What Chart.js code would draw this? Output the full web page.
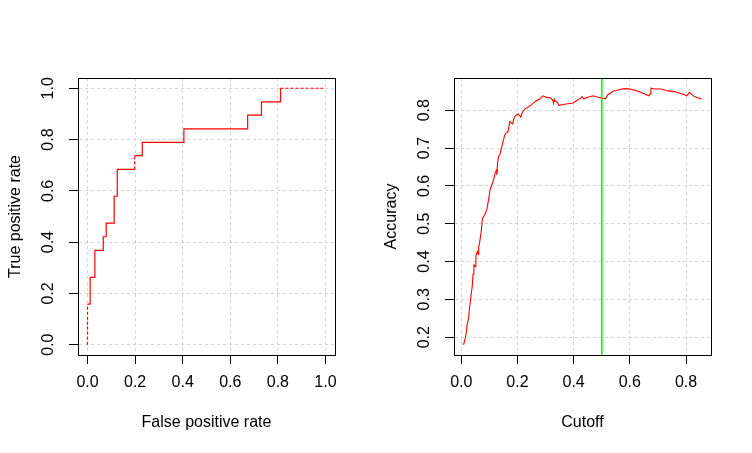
<!DOCTYPE html>
<html><head><meta charset="utf-8">
<script src="https://cdn.jsdelivr.net/npm/chart.js@4"></script>
<style>
html,body{margin:0;padding:0;background:#fff;}
#wrap{display:flex;width:752px;height:453px;}
canvas{display:block;}
</style>
</head><body>
<div id="wrap"><canvas id="roc" width="376" height="453"></canvas><canvas id="acc" width="376" height="453"></canvas></div>
<script>
// ROC curve corner points (False positive rate, True positive rate)
const rocFpr = [0, 0, 0.011, 0.011, 0.031, 0.031, 0.066, 0.066, 0.0785, 0.0785, 0.112, 0.112, 0.125, 0.125, 0.198, 0.198, 0.230, 0.230, 0.405, 0.405, 0.673, 0.673, 0.731, 0.731, 0.811, 0.811, 1.0];
const rocTpr = [0, 0.158, 0.158, 0.263, 0.263, 0.368, 0.368, 0.421, 0.421, 0.474, 0.474, 0.579, 0.579, 0.684, 0.684, 0.737, 0.737, 0.789, 0.789, 0.842, 0.842, 0.895, 0.895, 0.947, 0.947, 1.0, 1.0];
const rocDashedSegments = [0, 14, 25];
const rocXTicks = [0, 0.2, 0.4, 0.6, 0.8, 1.0];
const rocYTicks = [0, 0.2, 0.4, 0.6, 0.8, 1.0];

// Accuracy vs cutoff
const cutoffs = [0.008,0.013,0.018,0.021,0.026,0.030,0.033,0.036,0.039,0.042,0.045,0.049,0.052,0.057,0.061,0.062,0.065,0.069,0.072,0.075,
  0.083,0.091,0.097,0.103,0.109,0.115,0.121,0.125,0.127,0.129,0.133,0.139,0.143,0.148,0.154,0.158,0.166,0.173,0.178,0.183,
  0.187,0.192,0.202,0.209,0.212,0.217,0.226,0.237,0.249,0.259,0.267,0.279,0.291,0.303,0.318,0.326,0.329,0.331,0.335,0.341,
  0.348,0.362,0.380,0.398,0.410,0.425,0.430,0.436,0.451,0.469,0.487,0.501,0.513,0.522,0.534,0.543,0.552,0.570,0.585,0.600,
  0.617,0.635,0.653,0.668,0.672,0.675,0.689,0.712,0.736,0.760,0.778,0.795,0.803,0.812,0.821,0.830,0.842,0.855];
const accuracy = [0.180,0.193,0.213,0.233,0.250,0.281,0.299,0.318,0.334,0.367,0.391,0.387,0.413,0.426,0.419,0.440,0.448,0.470,0.486,0.513,
  0.523,0.537,0.563,0.591,0.603,0.616,0.635,0.641,0.629,0.660,0.678,0.686,0.700,0.715,0.732,0.739,0.742,0.770,0.766,0.764,
  0.776,0.785,0.790,0.785,0.782,0.794,0.803,0.808,0.814,0.820,0.825,0.829,0.838,0.834,0.833,0.826,0.819,0.829,0.823,0.822,
  0.813,0.815,0.817,0.819,0.825,0.832,0.836,0.830,0.834,0.838,0.834,0.832,0.830,0.841,0.847,0.851,0.852,0.856,0.857,0.856,
  0.853,0.849,0.843,0.838,0.843,0.858,0.856,0.856,0.851,0.849,0.845,0.841,0.838,0.847,0.841,0.836,0.833,0.830];
const cutoffMarker = 0.5;
const accXTicks = [0, 0.2, 0.4, 0.6, 0.8];
const accYTicks = [0.2, 0.3, 0.4, 0.5, 0.6, 0.7, 0.8];

Chart.defaults.font.family = '"Liberation Sans", Arial, sans-serif';
Chart.defaults.font.size = 16;
Chart.defaults.color = '#000';

function ext(arr) {
  const mn = Math.min(...arr), mx = Math.max(...arr), d = mx - mn;
  return {min: mn - 0.04 * d, max: mx + 0.04 * d};
}

const gridOpts = {color: '#d3d3d3', lineWidth: 1, drawTicks: true, tickLength: 9, tickColor: '#000', tickWidth: 1, tickBorderDash: []};
const borderOpts = {display: true, color: '#000', width: 1, dash: [3, 3]};

function xScale(range, ticks, title) {
  return {
    type: 'linear', position: 'bottom', min: range.min, max: range.max,
    afterBuildTicks: s => { s.ticks = ticks.map(v => ({value: v})); },
    afterFit: s => { s.height = 98; },
    grid: gridOpts, border: borderOpts,
    ticks: {autoSkip: false, maxRotation: 0, minRotation: 0, padding: 9, callback: v => Number(v).toFixed(1)},
    title: {display: true, text: title, padding: {top: 0, bottom: 21}}
  };
}
function yScale(range, ticks, title) {
  return {
    type: 'linear', position: 'left', min: range.min, max: range.max,
    afterBuildTicks: s => { s.ticks = ticks.map(v => ({value: v})); },
    afterFit: s => { s.width = 78; },
    grid: gridOpts, border: borderOpts,
    ticks: {autoSkip: false, minRotation: 90, maxRotation: 90, crossAlign: 'center', padding: 9, callback: v => Number(v).toFixed(1)},
    title: {display: true, text: title, padding: {top: 6, bottom: 0}}
  };
}

const boxPlugin = {
  id: 'box',
  afterDraw(chart) {
    const {ctx, chartArea: a} = chart;
    ctx.save();
    ctx.strokeStyle = '#000';
    ctx.lineWidth = 1;
    ctx.setLineDash([]);
    ctx.strokeRect(a.left + 0.5, a.top + 0.5, a.right - a.left, a.bottom - a.top);
    ctx.restore();
  }
};

const common = {
  responsive: false, animation: false,
  layout: {padding: {left: 0, top: 78, right: 41, bottom: 0}},
  plugins: {legend: {display: false}, tooltip: {enabled: false}}
};

// ROC
const rocX = ext(rocFpr), rocY = ext(rocTpr);
new Chart(document.getElementById('roc'), {
  type: 'scatter',
  data: {datasets: [{
    data: rocFpr.map((x, i) => ({x, y: rocTpr[i]})),
    showLine: true, borderColor: '#ff0000', borderWidth: 1.2, pointRadius: 0, tension: 0,
    segment: {borderDash: c => rocDashedSegments.includes(c.p0DataIndex) ? [3, 2] : []}
  }]},
  options: Object.assign({}, common, {
    scales: {x: xScale(rocX, rocXTicks, 'False positive rate'), y: yScale(rocY, rocYTicks, 'True positive rate')}
  }),
  plugins: [boxPlugin]
});

// Accuracy
const accX = ext(cutoffs), accY = ext(accuracy);
new Chart(document.getElementById('acc'), {
  type: 'scatter',
  data: {datasets: [
    {data: [{x: cutoffMarker, y: accY.min}, {x: cutoffMarker, y: accY.max}], showLine: true, borderColor: '#00ff00', borderWidth: 1.6, pointRadius: 0, order: 0},
    {data: cutoffs.map((x, i) => ({x, y: accuracy[i]})), showLine: true, borderColor: '#ff0000', borderWidth: 1.1, pointRadius: 0, tension: 0, order: 1}
  ]},
  options: Object.assign({}, common, {
    scales: {x: xScale(accX, accXTicks, 'Cutoff'), y: yScale(accY, accYTicks, 'Accuracy')}
  }),
  plugins: [boxPlugin]
});
</script>
</body></html>
